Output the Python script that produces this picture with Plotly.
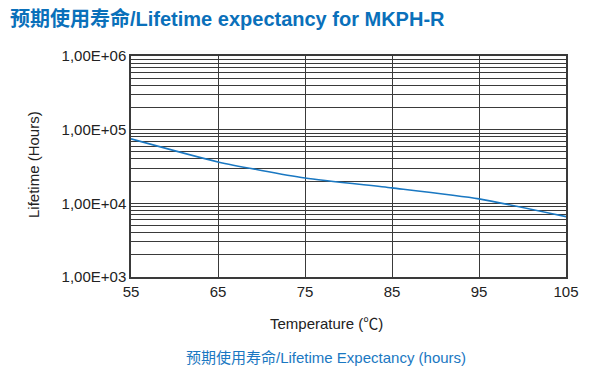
import plotly.graph_objects as go

temps = [55, 65, 75, 85, 95, 105]
lifetime_hours = [75000, 36500, 22100, 16200, 11500, 6600]
x_ticks = [55, 65, 75, 85, 95, 105]
y_ticks = [1e3, 1e4, 1e5, 1e6]
y_tick_labels = ["1,00E+03", "1,00E+04", "1,00E+05", "1,00E+06"]

FONT = "Liberation Sans, Arial, Noto Sans CJK SC, sans-serif"
BLUE = "#1a78c2"
GRID = "#3a3a3a"

# page body has an 8px margin, so figure coords = screen coords - 8
PL, PR, PT, PB = 131, 566, 56, 277  # plot box in screen coords
W, H = PR - PL, PB - PT

def px(sx):
    return (sx - PL) / W

def py(sy):
    return (PB - sy) / H

fig = go.Figure()
fig.add_trace(go.Scatter(
    x=temps, y=lifetime_hours, mode="lines",
    line=dict(color=BLUE, width=1.6, shape="spline", smoothing=0.6),
    showlegend=False, hoverinfo="skip"))

fig.update_layout(
    width=600, height=371,
    margin=dict(l=PL - 8, r=600 - PR + 8, t=PT - 8, b=371 - PB + 8),
    paper_bgcolor="white", plot_bgcolor="white",
    font=dict(family=FONT, color="#222", size=15),
    xaxis=dict(range=[55, 105], tickmode="array", tickvals=x_ticks,
               ticktext=[str(v) for v in x_ticks],
               showgrid=True, gridcolor=GRID, gridwidth=1.3,
               showline=True, linecolor=GRID, linewidth=1.5, mirror=True,
               zeroline=False, ticks="", ticklen=0,
               tickfont=dict(size=15, color="#222")),
    yaxis=dict(type="log", range=[3, 6], tickmode="array", tickvals=y_ticks,
               ticktext=y_tick_labels,
               showgrid=True, gridcolor=GRID, gridwidth=1.3,
               showline=True, linecolor=GRID, linewidth=1.5, mirror=True,
               zeroline=False, ticks="", ticklen=0,
               tickfont=dict(size=15, color="#222"),
               minor=dict(showgrid=True, gridcolor=GRID, gridwidth=1.3, dtick="D1")),
)

fig.add_annotation(text="<b>预期使用寿命/Lifetime expectancy for MKPH-R</b>",
                   xref="paper", yref="paper", x=px(8), y=py(19),
                   xanchor="left", yanchor="middle", showarrow=False,
                   font=dict(size=20, color="#0a70ba",
                             family="Liberation Sans, Noto Sans CJK SC, sans-serif"))
fig.add_annotation(text="Lifetime (Hours)", xref="paper", yref="paper",
                   x=px(33), y=py(165), textangle=-90,
                   xanchor="center", yanchor="middle", showarrow=False,
                   font=dict(size=15, color="#222"))
fig.add_annotation(text="Temperature (℃)", xref="paper", yref="paper",
                   x=px(326), y=py(323),
                   xanchor="center", yanchor="middle", showarrow=False,
                   font=dict(size=15, color="#222"))
fig.add_annotation(text="预期使用寿命/Lifetime Expectancy (hours)", xref="paper", yref="paper",
                   x=px(326), y=py(357),
                   xanchor="center", yanchor="middle", showarrow=False,
                   font=dict(size=15, color="#1a78c2"))

fig.write_html("out.html")
